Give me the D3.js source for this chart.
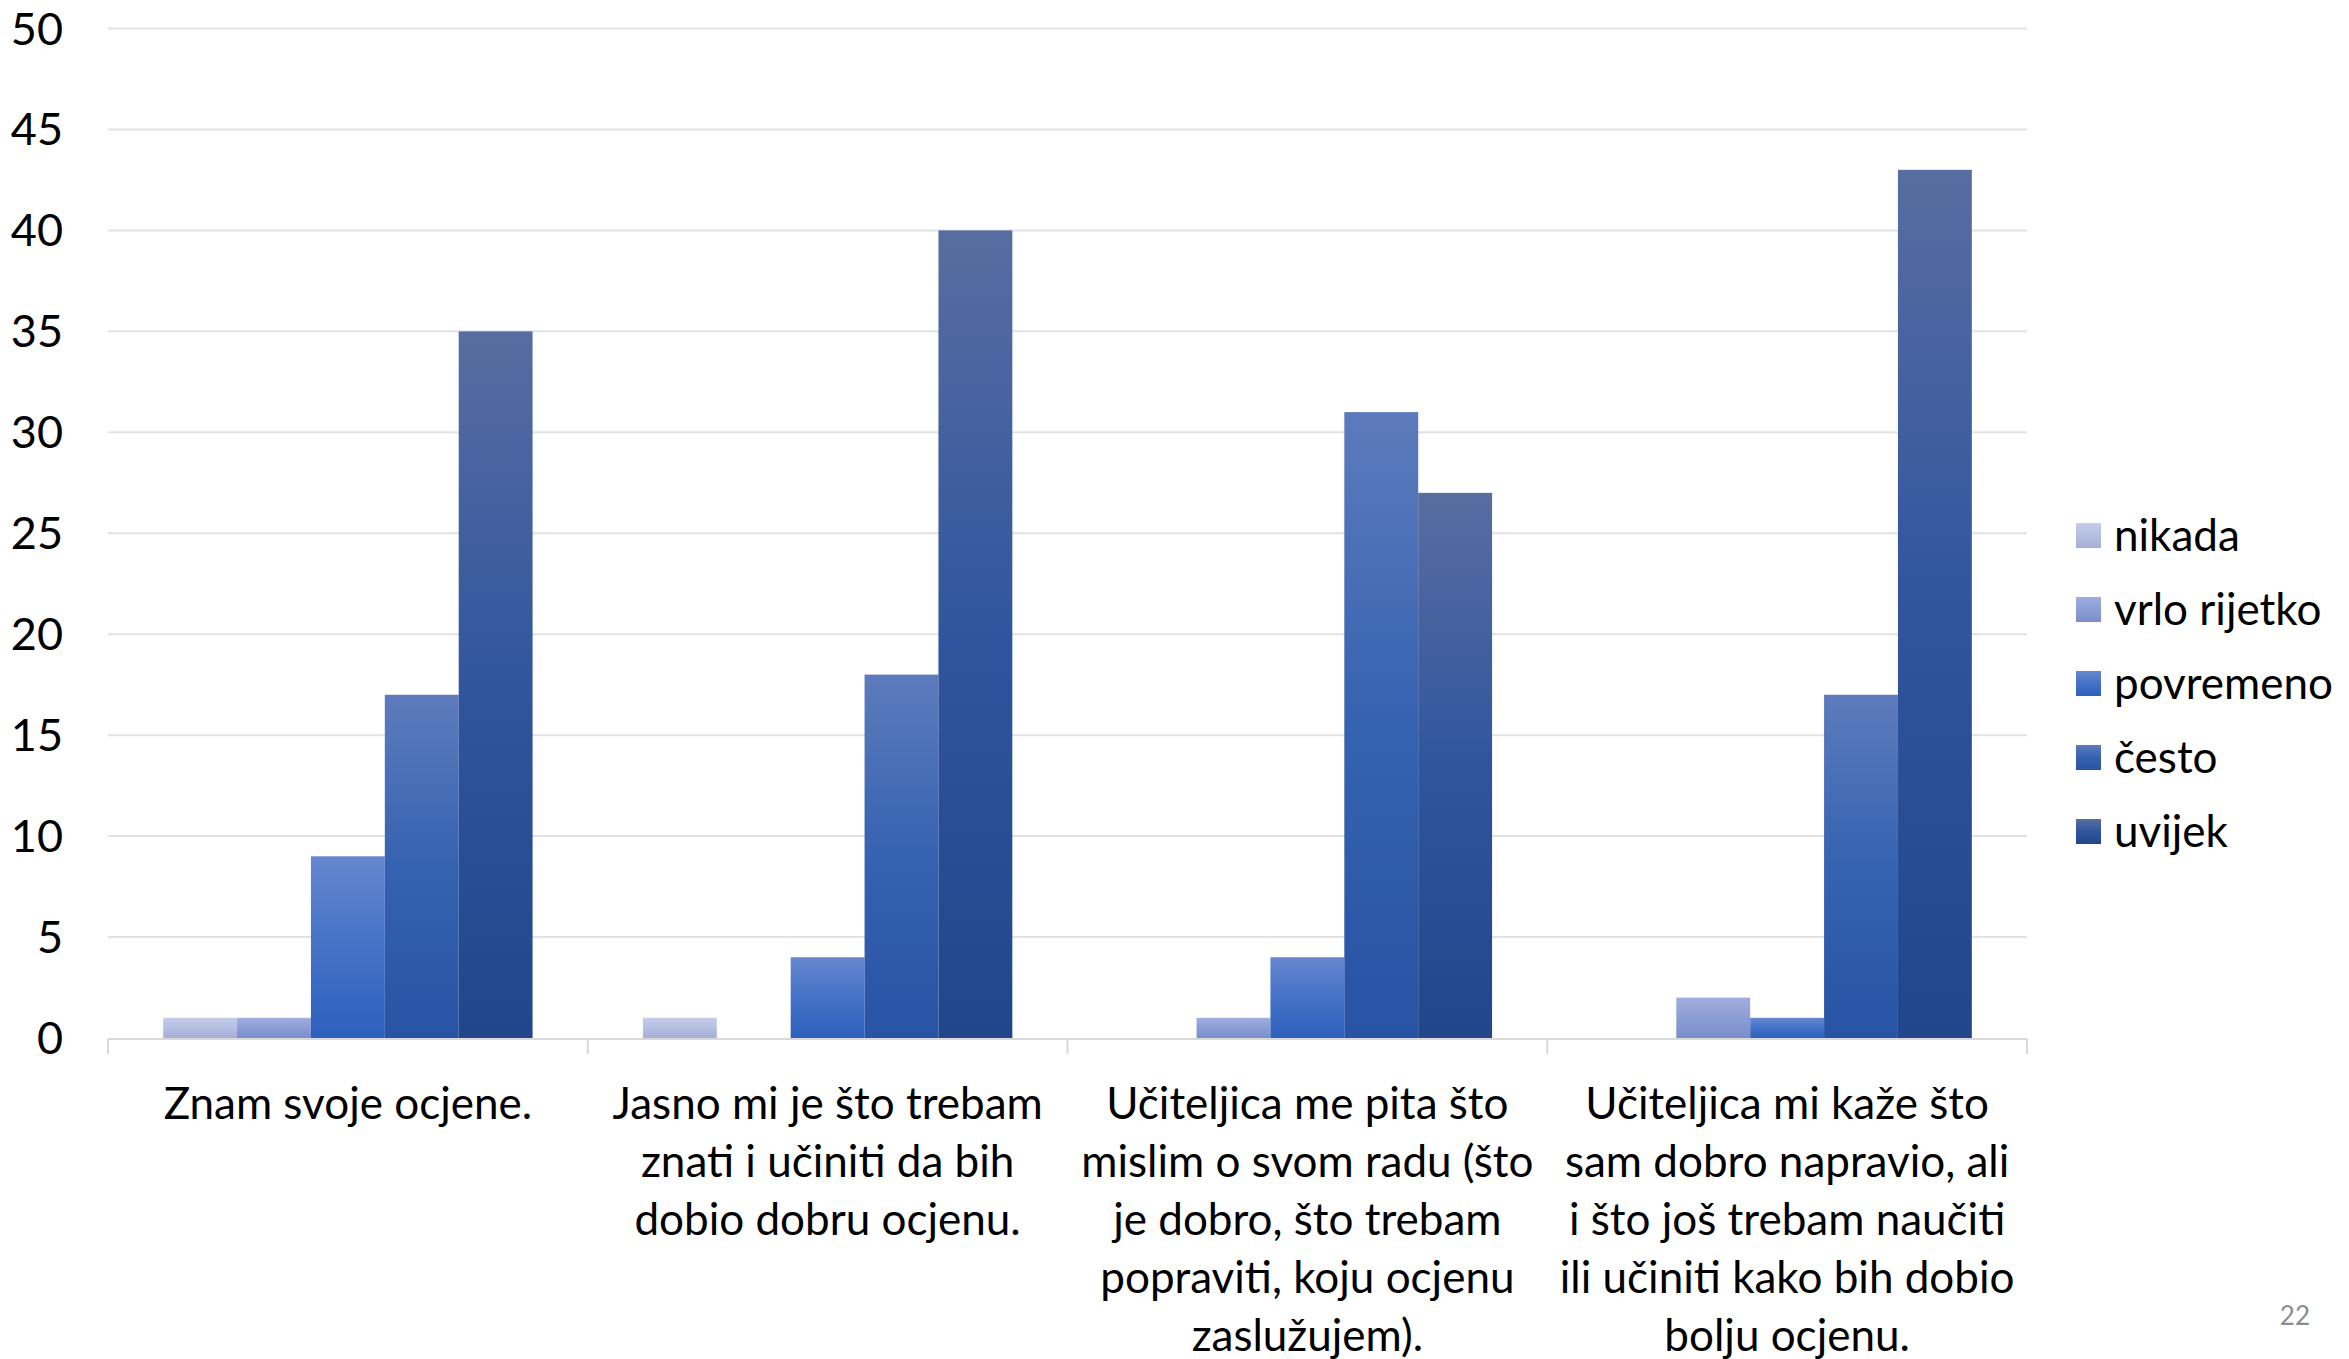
<!DOCTYPE html>
<html>
<head>
<meta charset="utf-8">
<script src="https://d3js.org/d3.v7.min.js"></script>
<style>
  body { margin: 0; background: #fff; }
  text { font-family: Lato, "Open Sans", sans-serif; fill: #000; }
  .grid line { stroke: #dfe3e8; stroke-width: 2; }
</style>
</head>
<body>
<script>
// categories (x axis), one line per wrapped row as in the slide
var categories = ["q1", "q2", "q3", "q4"];
var categoryLines = [
    ["Znam svoje ocjene."],
    ["Jasno mi je što trebam", "znati i učiniti da bih", "dobio dobru ocjenu."],
    ["Učiteljica me pita što", "mislim o svom radu (što", "je dobro, što trebam", "popraviti, koju ocjenu", "zaslužujem)."],
    ["Učiteljica mi kaže što", "sam dobro napravio, ali", "i što još trebam naučiti", "ili učiniti kako bih dobio", "bolju ocjenu."]
];

var seriesNames = ["nikada", "vrlo rijetko", "povremeno", "često", "uvijek"];
var nikada      = [1, 1, 0, 0];
var vrloRijetko = [1, 0, 1, 2];
var povremeno   = [9, 4, 4, 1];
var cesto       = [17, 18, 31, 17];
var uvijek      = [35, 40, 27, 43];
var yTicks = [0, 5, 10, 15, 20, 25, 30, 35, 40, 45, 50];

var seriesValues = [nikada, vrloRijetko, povremeno, cesto, uvijek];

// gradient stops per series: top, middle, bottom
var seriesColors = [
    ["#c6cde9", "#b5bee2", "#a5b0d7"],
    ["#a0afdf", "#8c9dd5", "#7b8ecb"],
    ["#6687cf", "#4472c6", "#2d60bd"],
    ["#5d7bbc", "#3562b1", "#2953a4"],
    ["#586da1", "#30559e", "#21468b"]
];

var width = 2349, height = 1359;
var plotLeft = 108, plotRight = 2027, plotTop = 28.5, plotBottom = 1038;

var svg = d3.select("body").append("svg")
    .attr("width", width)
    .attr("height", height);

var defs = svg.append("defs");
seriesColors.forEach(function(c, i){
    var g = defs.append("linearGradient")
        .attr("id", "grad" + i)
        .attr("x1", 0).attr("y1", 0).attr("x2", 0).attr("y2", 1);
    g.append("stop").attr("offset", "0%").attr("stop-color", c[0]);
    g.append("stop").attr("offset", "50%").attr("stop-color", c[1]);
    g.append("stop").attr("offset", "100%").attr("stop-color", c[2]);
});

var y = d3.scaleLinear().domain([0, 50]).range([plotBottom, plotTop]);

var x0 = d3.scaleBand().domain(categories).range([plotLeft, plotRight]);

var gap = x0.bandwidth() * 0.115;
var x1 = d3.scaleBand().domain(seriesNames).range([gap, x0.bandwidth() - gap]);

// gridlines
svg.append("g").attr("class", "grid")
    .selectAll("line")
    .data(yTicks.slice(1))
    .enter().append("line")
    .attr("x1", plotLeft).attr("x2", plotRight)
    .attr("y1", d => y(d)).attr("y2", d => y(d));

// y tick labels
svg.append("g")
    .selectAll("text")
    .data(yTicks)
    .enter().append("text")
    .attr("x", 63)
    .attr("y", d => y(d) + 16)
    .attr("text-anchor", "end")
    .style("font-size", "45px")
    .text(d => d);

// bars
var groups = svg.append("g")
    .selectAll("g")
    .data(categories)
    .enter().append("g")
    .attr("transform", d => "translate(" + x0(d) + ",0)");

groups.selectAll("rect")
    .data(function(d, ci){
        return seriesNames.map(function(s, si){ return {s: s, i: si, v: seriesValues[si][ci]}; });
    })
    .enter().append("rect")
    .attr("x", d => x1(d.s))
    .attr("width", x1.bandwidth())
    .attr("y", d => y(d.v))
    .attr("height", d => y(0) - y(d.v))
    .style("fill", d => "url(#grad" + d.i + ")");

// x axis line and category separators
svg.append("line")
    .attr("x1", plotLeft).attr("x2", plotRight)
    .attr("y1", plotBottom + 1).attr("y2", plotBottom + 1)
    .style("stroke", "#d9d9d9").style("stroke-width", 2);

var seps = categories.map(c => x0(c)).concat([plotRight]);
svg.append("g")
    .selectAll("line")
    .data(seps)
    .enter().append("line")
    .attr("x1", d => d).attr("x2", d => d)
    .attr("y1", plotBottom + 1).attr("y2", plotBottom + 16)
    .style("stroke", "#d9d9d9").style("stroke-width", 2);

// category labels
var labels = svg.append("g")
    .selectAll("text")
    .data(categories)
    .enter().append("text")
    .attr("text-anchor", "middle")
    .style("font-size", "44px");

labels.selectAll("tspan")
    .data((d, i) => categoryLines[i])
    .enter().append("tspan")
    .attr("x", function(){ return x0(d3.select(this.parentNode).datum()) + x0.bandwidth() / 2; })
    .attr("y", (d, i) => 1119 + i * 58)
    .text(d => d);

// legend
var legend = svg.append("g")
    .selectAll("g")
    .data(seriesNames)
    .enter().append("g")
    .attr("transform", (d, i) => "translate(2076," + (523 + i * 74) + ")");

legend.append("rect")
    .attr("width", 25).attr("height", 25)
    .style("fill", (d, i) => "url(#grad" + i + ")");

legend.append("text")
    .attr("x", 38)
    .attr("y", 28)
    .style("font-size", "44px")
    .text(d => d);

// slide number
svg.append("text")
    .attr("x", 2310).attr("y", 1325)
    .attr("text-anchor", "end")
    .style("font-size", "26px")
    .style("fill", "#8c8c8c")
    .text("22");
</script>
</body>
</html>
